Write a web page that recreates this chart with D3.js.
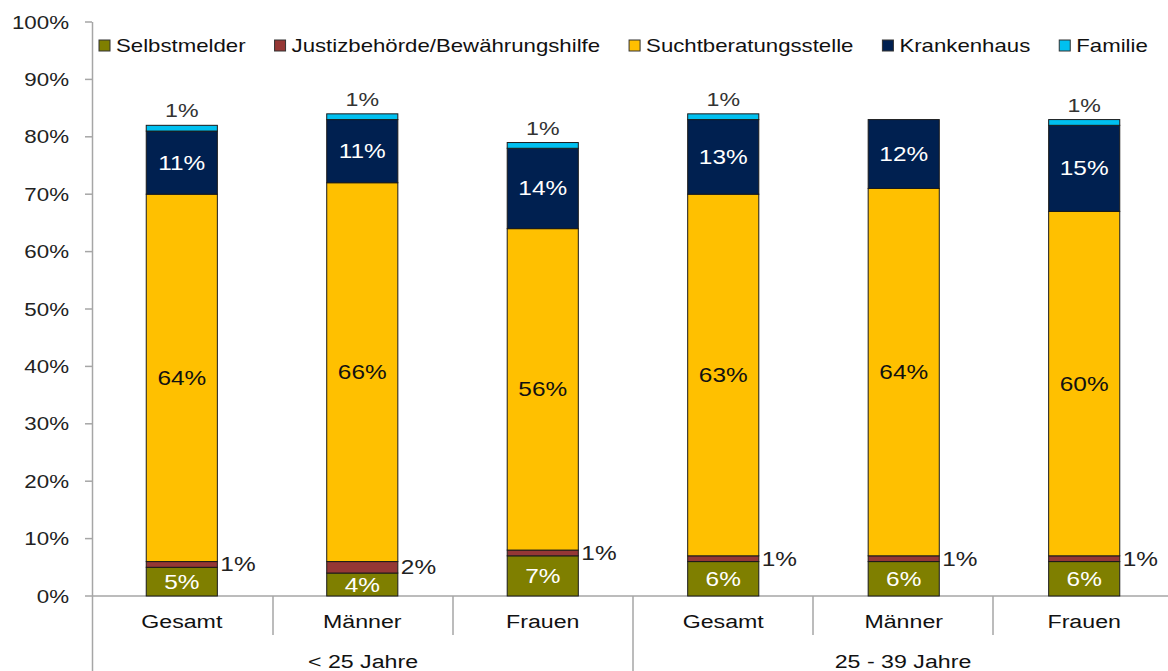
<!DOCTYPE html>
<html>
<head>
<meta charset="utf-8">
<script src="https://cdn.jsdelivr.net/npm/d3@7"></script>
<style>
  body { margin: 0; background: #fff; }
  text { font-family: "Liberation Sans", Arial, sans-serif; }
</style>
</head>
<body>
<svg id="chart"></svg>
<script>
// chart data
const groups = ['< 25 Jahre', '25 - 39 Jahre'];
const categories = ['Gesamt', 'Männer', 'Frauen', 'Gesamt', 'Männer', 'Frauen'];
const seriesNames = ['Selbstmelder', 'Justizbehörde/Bewährungshilfe', 'Suchtberatungsstelle', 'Krankenhaus', 'Familie'];
const selbstmelder = [5, 4, 7, 6, 6, 6];
const justiz = [1, 2, 1, 1, 1, 1];
const sucht = [64, 66, 56, 63, 64, 60];
const krankenhaus = [11, 11, 14, 13, 12, 15];
const familie = [1, 1, 1, 1, 0, 1];
const yTicks = [0, 10, 20, 30, 40, 50, 60, 70, 80, 90, 100];

const colors = ['#7f7f00', '#953735', '#ffc000', '#002050', '#00c0f0'];
const labelColors = ['#fff', '#222', '#111', '#fff', '#333'];

function buildChart() {
    const width = 1168;
    const height = 671;
    const svg = d3.select('#chart').attr('width', width).attr('height', height);

    // the original is a bit stretched sideways, so text gets a horizontal scale
    const sx = 1.22;
    function addText(g, x, y, str, size, anchor, fill) {
        return g.append('text')
            .attr('transform', `translate(${x},${y}) scale(${sx},1)`)
            .attr('text-anchor', anchor)
            .attr('font-size', size)
            .attr('fill', fill)
            .text(str);
    }

    // one row per bar
    const rows = categories.map((c, i) => ({
        idx: i,
        s0: selbstmelder[i], s1: justiz[i], s2: sucht[i], s3: krankenhaus[i], s4: familie[i]
    }));
    const keys = ['s0', 's1', 's2', 's3', 's4'];
    const stacked = d3.stack().keys(keys)(rows);

    const x = d3.scaleBand().domain(d3.range(categories.length))
        .range([93, 1173]).paddingInner(0.606).paddingOuter(0.295);
    const y = d3.scaleLinear().domain([0, 100]).range([596, 22]);

    const axisColor = '#a6a6a6';

    // y axis
    const yAxis = svg.append('g');
    yAxis.append('line').attr('x1', 92.5).attr('x2', 92.5).attr('y1', y(100)).attr('y2', height)
        .attr('stroke', axisColor).attr('stroke-width', 1.5);
    yTicks.forEach(t => {
        yAxis.append('line').attr('x1', 85).attr('x2', 92).attr('y1', y(t)).attr('y2', y(t))
            .attr('stroke', axisColor).attr('stroke-width', 1.5);
        addText(yAxis, 69, y(t) + 6.5, t + '%', 18.3, 'end', '#222');
    });

    // x axis
    const xAxis = svg.append('g');
    xAxis.append('line').attr('x1', 92).attr('x2', width).attr('y1', y(0)).attr('y2', y(0))
        .attr('stroke', axisColor).attr('stroke-width', 1.5);
    const step = 180;
    const x0 = x.range()[0];
    d3.range(1, categories.length).forEach(k => {
        const bx = x0 + k * step;
        const isGroup = k === 3;
        xAxis.append('line').attr('x1', bx).attr('x2', bx)
            .attr('y1', y(0)).attr('y2', isGroup ? height : 635)
            .attr('stroke', axisColor).attr('stroke-width', 1.5);
    });
    categories.forEach((c, i) => {
        addText(xAxis, x(i) + x.bandwidth() / 2, 628, c, 19, 'middle', '#111');
    });
    groups.forEach((g, gi) => {
        addText(xAxis, x0 + (gi * 3 + 1.5) * step, 668, g, 19, 'middle', '#111');
    });

    // bars
    const barsGroup = svg.append('g');
    stacked.forEach((layer, si) => {
        barsGroup.selectAll(null)
            .data(layer.filter(d => d[1] - d[0] > 0))
            .enter()
            .append('rect')
            .attr('x', d => x(d.data.idx))
            .attr('width', x.bandwidth())
            .attr('y', d => y(d[1]))
            .attr('height', d => y(d[0]) - y(d[1]))
            .attr('fill', colors[si])
            .attr('stroke', '#1a1a1a')
            .attr('stroke-width', 1);
    });

    // value labels
    const labels = svg.append('g');
    stacked.forEach((layer, si) => {
        layer.forEach(d => {
            const v = d[1] - d[0];
            if (v <= 0) return;
            const cx = x(d.data.idx) + x.bandwidth() / 2;
            const mid = (y(d[0]) + y(d[1])) / 2;
            if (si === 1) {
                addText(labels, x(d.data.idx) + x.bandwidth() + 3, mid + 7, v + '%', 20, 'start', labelColors[si]);
            } else if (si === 4) {
                addText(labels, cx, y(d[1]) - 8, v + '%', 19, 'middle', labelColors[si]);
            } else {
                addText(labels, cx, mid + 7, v + '%', 20, 'middle', labelColors[si]);
            }
        });
    });

    // legend laid out left to right
    const legend = svg.append('g');
    let lx = 99;
    seriesNames.forEach((name, i) => {
        legend.append('rect').attr('x', lx).attr('y', 40).attr('width', 11).attr('height', 11)
            .attr('fill', colors[i]).attr('stroke', '#333').attr('stroke-width', 1);
        const t = addText(legend, lx + 17, 52, name, 18.2, 'start', '#111');
        const w = t.node().getComputedTextLength() * sx;
        lx += 17 + w + 29;
    });
}

buildChart();
</script>
</body>
</html>
